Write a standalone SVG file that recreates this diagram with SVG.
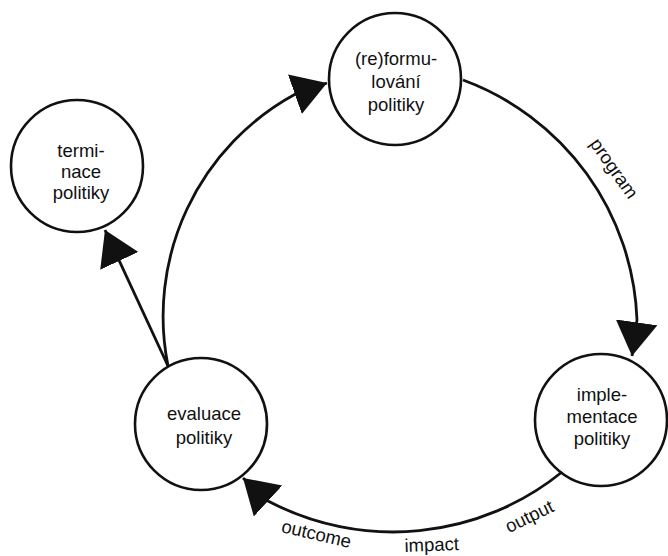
<svg xmlns="http://www.w3.org/2000/svg" width="668" height="556" viewBox="0 0 668 556">
  <style>
    .node { fill: #ffffff; stroke: #111; stroke-width: 2.6; }
    .lbl { font-family: "Liberation Sans", Arial, sans-serif; font-size: 18.5px; fill: #111; text-anchor: middle; }
    .conn { fill: none; stroke: #111; stroke-width: 2.8; marker-end: url(#arrow); }
  </style>
  <defs>
    <marker id="arrow" markerUnits="userSpaceOnUse" markerWidth="36" markerHeight="44" refX="34" refY="21" orient="auto" viewBox="0 0 36 44">
      <path d="M0,0 L34,21 L0,42 Z" fill="#111"/>
    </marker>
  </defs>
  <rect width="668" height="556" fill="#ffffff"/>

  <g id="node-reformulovani">
    <circle class="node" cx="395" cy="79" r="66"/>
    <text class="lbl" x="396" y="65">(re)formu-</text>
    <text class="lbl" x="396" y="88">lování</text>
    <text class="lbl" x="396" y="111">politiky</text>
  </g>
  <g id="node-terminace">
    <circle class="node" cx="77" cy="166" r="66"/>
    <text class="lbl" x="81" y="157">termi-</text>
    <text class="lbl" x="81" y="178">nace</text>
    <text class="lbl" x="81" y="199">politiky</text>
  </g>
  <g id="node-implementace">
    <circle class="node" cx="601" cy="420" r="66"/>
    <text class="lbl" x="602" y="401">imple-</text>
    <text class="lbl" x="602" y="423">mentace</text>
    <text class="lbl" x="602" y="445">politiky</text>
  </g>
  <g id="node-evaluace">
    <circle class="node" cx="201" cy="424" r="66"/>
    <text class="lbl" x="204" y="420">evaluace</text>
    <text class="lbl" x="204" y="444">politiky</text>
  </g>

  <g id="connectors">
    <path class="conn" d="M168,366 A253,253 0 0 1 295.5,94 L327,83"/>
    <path class="conn" d="M463,80 A266,266 0 0 1 637,320 L632,356"/>
    <path class="conn" d="M562,472 A268,268 0 0 1 268,501 L243,478"/>
    <path class="conn" d="M168,366 L105,230"/>
    <text class="lbl" transform="translate(609,172) rotate(55)">program</text>
    <text class="lbl" transform="translate(532,522) rotate(-26)">output</text>
    <text class="lbl" transform="translate(432,551) rotate(-2)">impact</text>
    <text class="lbl" transform="translate(315,540) rotate(13)">outcome</text>
  </g>
</svg>
